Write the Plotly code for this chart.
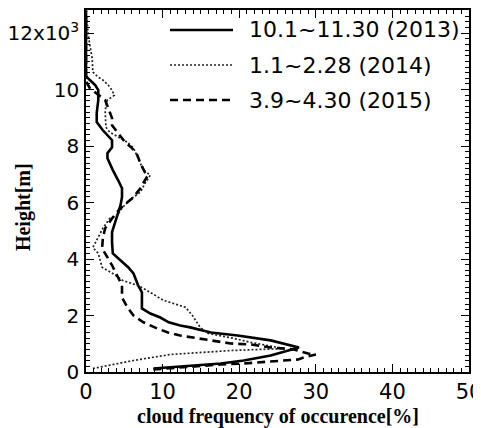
import plotly.graph_objects as go

# ---- data (cloud frequency [%] vs height [m]) ----
h_2013 = [125, 230, 300, 408, 585, 870, 1010, 1120, 1290, 1400, 1580, 1650, 1760, 1930, 2070, 2250,
          2640, 2820, 3070, 3490, 3710, 3950, 4200, 4590, 4950, 5300, 5660, 5900, 6190, 6510, 6790,
          7150, 7570, 7750, 7960, 8210, 8560, 8850, 9170, 9630, 9980, 10160, 10340, 10480, 12800]
v_2013 = [8.8, 13.6, 17.6, 20.6, 24.1, 27.8, 25.8, 24.1, 19.8, 16.3, 13.6, 12.3, 10.8, 9.7, 8.4, 7.3,
          7.3, 7.3, 6.8, 6.2, 5.5, 4.5, 3.5, 3.4, 3.4, 3.8, 4.2, 4.5, 4.7, 4.7, 4.2,
          3.5, 2.8, 2.8, 3.4, 3.4, 2.2, 1.4, 1.4, 1.6, 1.6, 1.2, 0.5, 0.0, 0.0]

h_2014 = [124, 408, 620, 690, 760, 830, 1050, 1190, 1370, 1580, 2000, 2290, 2540, 2960, 3070, 3240,
          3490, 3710, 4200, 4410, 5090, 5440, 5550, 5800, 6010, 6190, 6370, 6680, 6970, 7150, 7390,
          7610, 7930, 8140, 8310, 8490, 8670, 9270, 9630, 9800, 9980, 10160, 10340, 10440, 10620,
          11120, 11580, 11930, 12800]
v_2014 = [0.9, 6.2, 11.0, 14.9, 18.9, 25.8, 21.5, 19.3, 15.9, 14.9, 13.9, 13.0, 10.1, 7.5, 6.7, 4.8,
          3.5, 2.1, 1.6, 0.9, 2.2, 3.1, 4.1, 4.7, 5.4, 6.2, 7.1, 7.7, 8.4, 7.5, 7.1,
          6.7, 6.2, 5.4, 4.2, 3.1, 2.6, 2.5, 2.8, 3.7, 3.4, 2.9, 2.2, 1.6, 0.9,
          0.8, 0.5, 0.3, 0.0]

h_2015 = [90, 195, 265, 300, 370, 445, 515, 620, 655, 800, 870, 975, 1010, 1120, 1220, 1290, 1400,
          1540, 1760, 2000, 2290, 2640, 3070, 3420, 3780, 4060, 4380, 4730, 5090, 5440, 5800, 6190,
          6510, 6790, 6970, 7070, 7390, 7680, 7930, 8140, 8460, 8740, 8990, 9340, 9630, 10050,
          10300, 12800]
v_2015 = [8.8, 13.6, 17.6, 20.6, 24.1, 27.7, 28.4, 30.0, 29.0, 27.1, 24.1, 21.5, 18.9, 16.3, 13.6,
          12.3, 10.7, 9.3, 7.5, 6.2, 5.4, 4.7, 4.7, 4.1, 3.4, 2.8, 2.1, 2.2, 2.5, 3.4, 4.5, 6.2,
          7.1, 7.7, 8.1, 7.7, 7.1, 6.7, 6.0, 5.1, 4.2, 3.4, 3.4, 2.9, 2.5, 0.5,
          0.0, 0.0]

series_names = ["10.1~11.30 (2013)", "1.1~2.28 (2014)", "3.9~4.30 (2015)"]

x_tickvals = [0, 10, 20, 30, 40, 50]
x_ticktext = ["0", "10", "20", "30", "40", "50"]
y_tickvals = [0, 2000, 4000, 6000, 8000, 10000, 12000]
y_ticktext = ["0", "2", "4", "6", "8", "10", "12x10<sup>3</sup>"]

# ---- styles ----
styles = [
    dict(color="black", width=2.6, dash="solid"),
    dict(color="#222222", width=1.7, dash="2px,2px"),
    dict(color="black", width=2.6, dash="8px,5px"),
]

fig = go.Figure()
for xs, ys, name, st in zip([v_2013, v_2014, v_2015], [h_2013, h_2014, h_2015], series_names, styles):
    fig.add_trace(go.Scatter(x=xs, y=ys, mode="lines", name=name, line=st, showlegend=False))

x_tick_font = dict(family="DejaVu Sans, Arial, sans-serif", size=21, color="black")
y_tick_font = dict(family="DejaVu Sans, Arial, sans-serif", size=20, color="black")
legend_font = dict(family="DejaVu Sans, Arial, sans-serif", size=22, color="black")
title_font = dict(family="Liberation Serif, Times New Roman, serif", size=20, color="black")

# the page has an 8px body margin, so the figure is drawn from (8, 8)
fig.update_layout(
    width=481, height=428,
    margin=dict(l=78, r=20, t=2, b=64),
    paper_bgcolor="white", plot_bgcolor="white",
    showlegend=False,
)
fig.update_xaxes(
    range=[0, 50], tickvals=x_tickvals, ticktext=x_ticktext, automargin=False,
    ticks="inside", ticklen=8, tickwidth=1.2, tickcolor="black",
    minor=dict(ticks="inside", dtick=1, ticklen=4, tickwidth=1, tickcolor="black"),
    showline=True, linecolor="black", linewidth=1.5, mirror="ticks",
    showgrid=False, zeroline=False, tickfont=x_tick_font, ticklabelstandoff=0,
)
fig.update_yaxes(
    range=[0, 12820], tickvals=y_tickvals, ticktext=y_ticktext, automargin=False,
    ticks="inside", ticklen=8, tickwidth=1.2, tickcolor="black",
    minor=dict(ticks="inside", dtick=200, ticklen=4, tickwidth=1, tickcolor="black"),
    showline=True, linecolor="black", linewidth=1.5, mirror="ticks",
    showgrid=False, zeroline=False, tickfont=y_tick_font, ticklabelstandoff=1,
)

# axis titles
fig.add_annotation(text="<b>cloud frequency of occurence[%]</b>", xref="paper", yref="paper",
                   x=0.5, y=-0.085, xanchor="center", yanchor="top", showarrow=False, font=title_font)
fig.add_annotation(text="<b>Height[m]</b>", xref="paper", yref="paper",
                   x=-0.165, y=0.455, xanchor="center", yanchor="middle", textangle=-90,
                   showarrow=False, font=title_font)

# manual legend
leg_y_px = [30, 65, 100]
for ypx, name, st in zip(leg_y_px, series_names, styles):
    yp = (372 - ypx) / 362
    fig.add_shape(type="line", xref="paper", yref="paper",
                  x0=(170 - 86) / 383, x1=(233 - 86) / 383, y0=yp, y1=yp,
                  line=dict(color=st["color"], width=st["width"], dash=st["dash"]))
    fig.add_annotation(text=name, xref="paper", yref="paper", x=(247 - 86) / 383, y=yp,
                       xanchor="left", yanchor="middle", showarrow=False, font=legend_font)

fig.write_html("out.html")
